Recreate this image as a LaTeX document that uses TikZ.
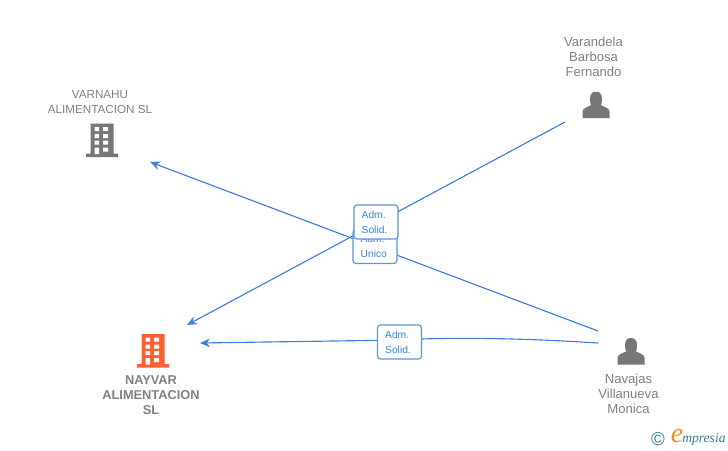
\documentclass[tikz,border=0pt]{standalone}
\usepackage{fontspec}
\setmainfont{Liberation Sans}
\newfontfamily\logofont{Liberation Serif}
\definecolor{linkblue}{HTML}{3C7FDC}
\definecolor{boxblue}{HTML}{5A94E2}
\definecolor{labelgray}{HTML}{808080}
\definecolor{icongray}{HTML}{777777}
\definecolor{iconorange}{HTML}{FF6030}
\definecolor{logoteal}{HTML}{2F7F96}
\definecolor{logoorange}{HTML}{F28C1E}
\tikzset{
  conn/.style={draw=linkblue,line width=0.85pt},
  arrowed/.style={conn,-{Stealth[length=7.5pt,width=6.5pt,inset=2.5pt]}},
  rolebox/.style={draw=boxblue,line width=0.85pt,fill=white,rounded corners=2.2pt,minimum width=33pt,minimum height=25.5pt,inner xsep=5.5pt,inner ysep=0pt,text width=21.5pt,align=left,text=linkblue,font=\fontsize{7.7pt}{11.2pt}\selectfont},
  entity/.style={align=center,text=labelgray,inner sep=0pt,font=\fontsize{8.75pt}{11.2pt}\selectfont},
  personname/.style={entity,font=\fontsize{9.8pt}{11.2pt}\selectfont},
  mainentity/.style={entity,font=\fontsize{9.6pt}{11.2pt}\selectfont\bfseries},
  building/.pic={
    \fill[pic actions] (-16,33.5) rectangle (16,30) (-11.5,30.5) rectangle (11.5,0);
    \fill[white] (-7.5,3.5) rectangle (-3,7.5) (1,3.5) rectangle (6,7.5)
      (-7.5,10.5) rectangle (-3,14.5) (1,10.5) rectangle (6,14.5)
      (-7.5,17) rectangle (-3,21) (1,17) rectangle (6,21)
      (-7.5,24) rectangle (-3,30.5) (1,24) rectangle (6,28);
  },
  person/.pic={
    \fill[pic actions] (-13.5,26.5) -- (-13.5,20) .. controls (-13.5,16.5) and (-9,15.5) .. (-5,13.5)
      .. controls (-5.5,11.5) and (-6,10) .. (-6,7) .. controls (-6,2) and (-3.5,0) .. (0,0)
      .. controls (3.5,0) and (6,2) .. (6,7) .. controls (6,10) and (5.5,11.5) .. (5,13.5)
      .. controls (9,15.5) and (13.5,16.5) .. (13.5,20) -- (13.5,26.5) -- cycle;
  }
}
\usetikzlibrary{arrows.meta}
\begin{document}
\begin{tikzpicture}[x=0.75pt,y=-0.75pt]
\useasboundingbox (0,0) rectangle (728,450);
% connector ends
\coordinate (vfEnd) at (565,122);
\coordinate (nayTop) at (187,325);
\coordinate (nvTop) at (598,331);
\coordinate (varEnd) at (150,162);
\coordinate (nvLow) at (598,343);
\coordinate (nayMid) at (200,343);
\coordinate (c1) at (400,340);
% connectors
\draw[arrowed] (nvTop) -- (varEnd);
\draw[arrowed] (vfEnd) -- (nayTop);
\draw[arrowed] (nvLow) .. controls (520,338) and (450,337) .. (c1) -- (nayMid);
% role labels
\node[rolebox] (unico) at (375,246.5) {Adm.\\Unico};
\node[rolebox] (solidA) at (376,222) {Adm.\\Solid.};
\node[rolebox] (solidB) at (399.5,342) {Adm.\\Solid.};
% entities
\pic[icongray,fill=icongray] at (102,123.5) {building};
\pic[iconorange,fill=iconorange] at (153,334) {building};
\pic[icongray,fill=icongray] at (596,91.7) {person};
\pic[icongray,fill=icongray] at (631,338) {person};
\node[entity] (varnahu) at (100,102) {VARNAHU\\ALIMENTACION SL};
\node[mainentity] (nayvar) at (151,395) {NAYVAR\\ALIMENTACION\\SL};
\node[personname] (varandela) at (593.5,57) {Varandela\\Barbosa\\Fernando};
\node[personname] (navajas) at (628.5,394) {Navajas\\Villanueva\\Monica};
% logo
\node[text=logoteal,inner sep=0pt,font=\fontsize{14pt}{14pt}\selectfont] (copy) at (658,439) {©};
\node[text=logoorange,inner sep=0pt,font=\logofont\itshape\fontsize{21pt}{21pt}\selectfont] (elogo) at (677,436) {e};
\node[text=logoteal,anchor=west,inner sep=0pt,font=\logofont\itshape\fontsize{10.2pt}{10pt}\selectfont] (mpresia) at (682,439.5) {mpresia};
\end{tikzpicture}
\end{document}
